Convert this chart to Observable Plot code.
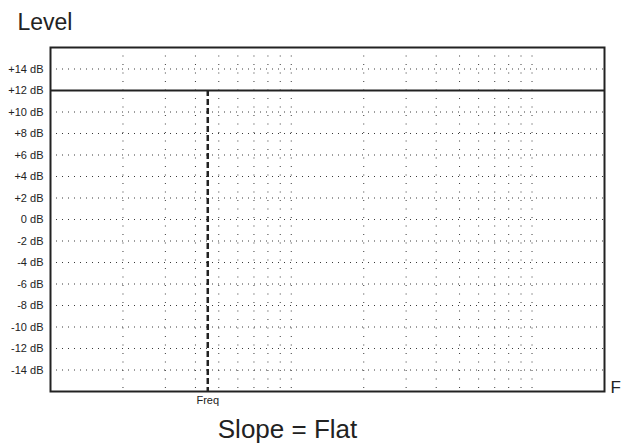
<!DOCTYPE html>
<html>
<head>
<meta charset="utf-8">
<script src="https://cdn.jsdelivr.net/npm/d3@7"></script>
<script src="https://cdn.jsdelivr.net/npm/@observablehq/plot@0.6"></script>
<style>
  html, body { margin: 0; padding: 0; background: #fff; }
  #chart { width: 622px; height: 447px; overflow: hidden; }
  svg { font-family: "Liberation Sans", Arial, sans-serif; }
</style>
</head>
<body>
<div id="chart"></div>
<script>
// ---- data ----
const freqDomain = [10, 2000];
const levelDomain = [-16, 16];
const levelTicks = [-14, -12, -10, -8, -6, -4, -2, 0, 2, 4, 6, 8, 10, 12, 14];
const freqGrid = [20, 30, 40, 50, 60, 70, 80, 90, 100, 200, 300, 400, 500, 600, 700, 800, 900, 1000];
const gainLevel = [12];          // flat level line (dB)
const freqMarker = [45];         // "Freq" marker position
const freqMarkerLabel = ["Freq"];
const titleText = ["Level"];
const xAxisText = ["F"];
const captionText = ["Slope = Flat"];

const ink = "#222";

const chart = Plot.plot({
  width: 622,
  height: 447,
  marginLeft: 50,
  marginRight: 18,
  marginTop: 47,
  marginBottom: 56,
  style: { fontFamily: "Liberation Sans, Arial, sans-serif", color: ink, overflow: "visible" },
  x: { type: "log", domain: freqDomain, axis: null },
  y: { domain: levelDomain, axis: null },
  marks: [
    // grid
    Plot.ruleY(levelTicks, { stroke: "#3a3a3a", strokeWidth: 1, strokeDasharray: "1,5" }),
    Plot.ruleX(freqGrid, { stroke: "#3a3a3a", strokeWidth: 1, strokeDasharray: "1,7.5" }),
    // y tick labels
    Plot.axisY(levelTicks, {
      tickSize: 0,
      tickPadding: 7,
      fontSize: 11,
      tickFormat: d => (d > 0 ? "+" : "") + d + " dB",
      label: null
    }),
    // flat level line
    Plot.ruleY(gainLevel, { stroke: ink, strokeWidth: 2 }),
    // Freq marker
    Plot.ruleX(freqMarker, { y1: gainLevel[0], y2: levelDomain[0], stroke: ink, strokeWidth: 2.5, strokeDasharray: "6,3" }),
    Plot.text(freqMarkerLabel, { x: freqMarker, frameAnchor: "bottom", dy: 12, fontSize: 11, fill: ink }),
    // frame
    Plot.frame({ stroke: ink, strokeWidth: 2 }),
    // titles
    Plot.text(titleText, { frameAnchor: "top-left", dx: -33, dy: -18, textAnchor: "start", lineAnchor: "bottom", fontSize: 23, fill: ink }),
    Plot.text(xAxisText, { frameAnchor: "bottom-right", dx: 6, dy: 1, textAnchor: "start", lineAnchor: "bottom", fontSize: 17, fill: ink }),
    Plot.text(captionText, { frameAnchor: "bottom", dx: -40, dy: 46, lineAnchor: "bottom", fontSize: 26, fill: ink })
  ]
});

document.getElementById("chart").appendChild(chart);
</script>
</body>
</html>
